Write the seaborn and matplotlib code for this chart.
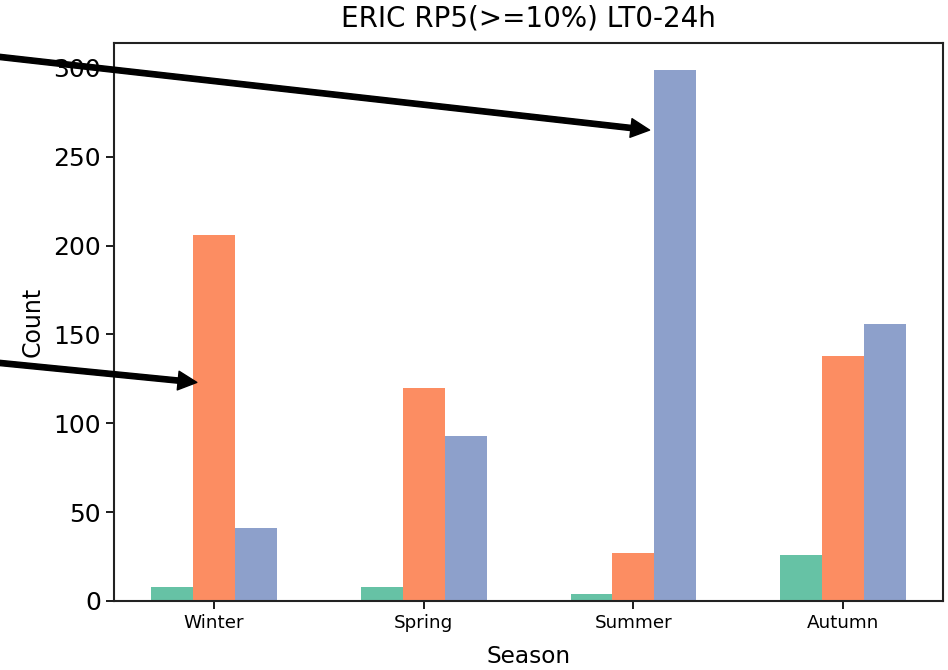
import matplotlib
matplotlib.use("Agg")
import matplotlib.pyplot as plt
import pandas as pd
import seaborn as sns

seasons = ["Winter", "Spring", "Summer", "Autumn"]
groups = ["Low", "Medium", "High"]
low_counts = [8, 8, 4, 26]
medium_counts = [206, 120, 27, 138]
high_counts = [41, 93, 299, 156]

df = pd.DataFrame({
    "Season": seasons * 3,
    "Group": [g for g in groups for _ in seasons],
    "Count": low_counts + medium_counts + high_counts,
})

sns.set_theme(style="ticks", rc={
    "text.color": "black", "axes.labelcolor": "black",
    "xtick.color": "black", "ytick.color": "black",
})
plt.rcParams["font.family"] = ["DejaVu Sans"]

fig = plt.figure(figsize=(9.48, 6.70), dpi=100)
ax = fig.add_axes([114 / 948, 1 - 601 / 670, (943 - 114) / 948, (601 - 43) / 670])

sns.barplot(data=df, x="Season", y="Count", hue="Group", order=seasons,
            hue_order=groups, palette="Set2", width=0.6, legend=False,
            saturation=1, linewidth=0, ax=ax)

ax.set_xlim(-0.477, 3.476)
ax.set_ylim(0, 314)
ax.set_yticks([0, 50, 100, 150, 200, 250, 300])
ax.tick_params(axis="y", labelsize=18, length=6, width=1.25)
ax.tick_params(axis="x", labelsize=13.2, length=6, width=1.25)
ax.set_xlabel("Season", fontsize=16.7, labelpad=9)
ax.set_ylabel("Count", fontsize=17, labelpad=6)
ax.set_title("ERIC RP5(>=10%) LT0-24h", fontsize=20, pad=12)
for s in ax.spines.values():
    s.set_color("#222222")
    s.set_linewidth(1.5)

arrow_style = dict(facecolor="black", edgecolor="black", width=3.8,
                   headwidth=13.5, headlength=13.5, shrink=0)
ax.annotate("", xy=(2.077, 265), xycoords="data",
            xytext=(-20, 670 - 54.7), textcoords="figure pixels",
            arrowprops=arrow_style, annotation_clip=False)
ax.annotate("", xy=(-0.082, 123), xycoords="data",
            xytext=(-20, 670 - 361), textcoords="figure pixels",
            arrowprops=arrow_style, annotation_clip=False)

fig.savefig("out.png", dpi=100)
